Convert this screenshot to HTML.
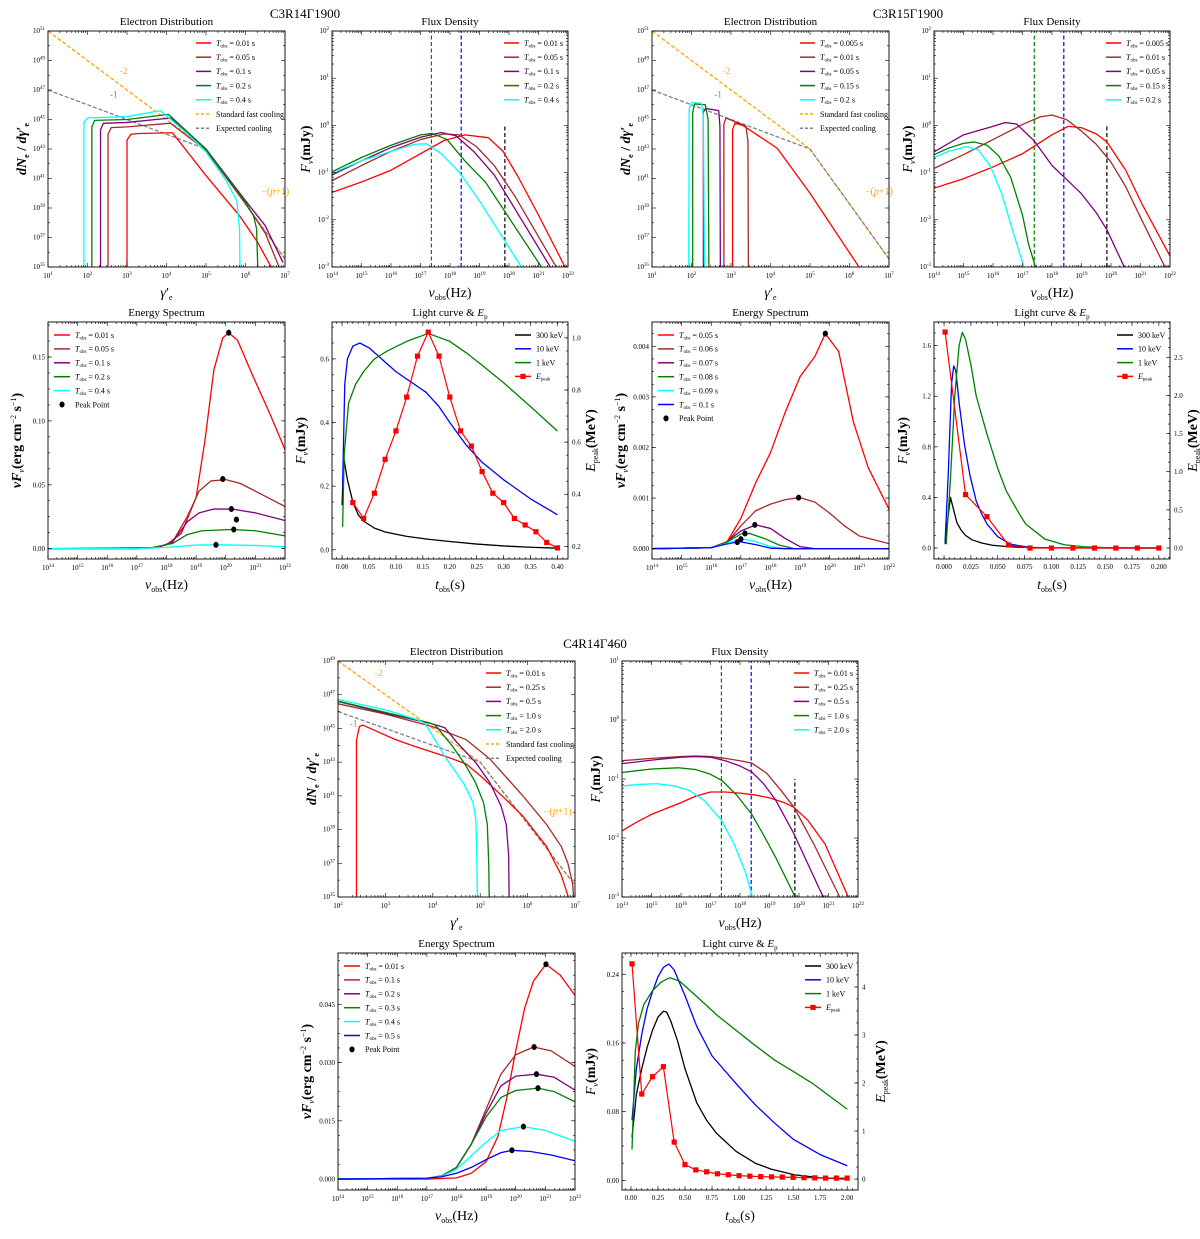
<!DOCTYPE html>
<html><head><meta charset="utf-8"><style>
html,body{margin:0;padding:0;background:#fff;}
svg{display:block;font-family:"Liberation Serif",serif;}
</style></head><body>
<svg id="fig" width="1200" height="1239" viewBox="0 0 1200 1239" xmlns="http://www.w3.org/2000/svg">
<rect x="0" y="0" width="1200" height="1239" fill="#fff"/>
</svg>
<script>
// ===== data (log10 values for log axes) =====
const ed1Red=[[3.0,35],[3.0,43.6],[3.1,44.0],[3.3,44.05],[4.15,44.1],[5.0,41.2],[5.87,38.4],[6.3,36.7],[6.65,35]];
const ed1Brown=[[2.52,35],[2.52,44.0],[2.6,44.45],[3.0,44.5],[4.1,44.75],[5.0,42.9],[6.0,39.3],[6.5,37.3],[6.85,35]];
const ed1Purple=[[2.33,35],[2.33,44.3],[2.4,44.74],[3.0,44.8],[4.1,45.1],[5.0,43.0],[6.0,39.5],[6.5,37.8],[6.95,35.3]];
const ed1Green=[[2.11,35],[2.11,44.5],[2.18,44.94],[3.0,45.0],[4.05,45.35],[5.0,43.0],[6.0,39.4],[6.2,38.5],[6.28,37.6],[6.31,35]];
const ed1Cyan=[[1.91,35],[1.91,44.8],[2.0,45.1],[3.0,45.2],[3.85,45.6],[4.5,44.1],[5.0,42.8],[5.5,40.9],[5.78,39.5],[5.85,37.5],[5.86,35]];
const edStd=[[1,51],[5,43],[7,35.55]];
const edExp=[[1,47],[5,43],[7,35.55]];
const fd1Red=[[14,-1.42],[15,-1.2],[16,-0.95],[17,-0.6],[17.8,-0.32],[18.5,-0.2],[19.3,-0.26],[19.8,-0.55],[20.3,-1.08],[21.0,-1.9],[21.9,-3]];
const fd1Brown=[[14,-1.17],[15,-0.85],[16,-0.55],[17,-0.3],[17.8,-0.18],[18.3,-0.2],[18.9,-0.45],[19.5,-0.85],[20.2,-1.5],[21.6,-3]];
const fd1Purple=[[14,-1.05],[15,-0.75],[16,-0.47],[17,-0.25],[17.7,-0.15],[18.2,-0.22],[18.8,-0.55],[19.5,-1.05],[21.4,-3]];
const fd1Green=[[14,-0.98],[15,-0.68],[16,-0.42],[17,-0.2],[17.4,-0.17],[17.9,-0.3],[18.5,-0.75],[19.2,-1.2],[21.1,-3]];
const fd1Cyan=[[14,-1.01],[15,-0.75],[16,-0.55],[16.8,-0.4],[17.2,-0.39],[17.7,-0.6],[18.3,-0.98],[19.0,-1.6],[20.42,-3]];
const fd1VLines=[17.37,18.38,19.86];
const es1Red=[[14,0],[17,0],[17.5,0.0005],[18,0.003],[18.5,0.012],[19,0.04],[19.3,0.085],[19.6,0.14],[19.9,0.165],[20.1,0.169],[20.4,0.163],[20.9,0.136],[21.5,0.105],[22,0.0775]];
const es1Brown=[[14,0],[17,0],[17.7,0.001],[18.2,0.005],[18.7,0.025],[19.1,0.045],[19.5,0.053],[20,0.054],[20.5,0.051],[21,0.045],[21.5,0.039],[22,0.033]];
const es1Purple=[[14,0],[17,0],[17.7,0.001],[18.2,0.005],[18.7,0.021],[19.1,0.028],[19.6,0.031],[20.2,0.031],[21,0.028],[22,0.022]];
const es1Green=[[14,0],[17.5,0.0008],[18.2,0.004],[18.7,0.011],[19.2,0.014],[20.2,0.015],[21,0.014],[22,0.010]];
const es1Cyan=[[14,0],[17,0],[18,0.001],[19,0.0028],[19.8,0.003],[21,0.0025],[22,0.0015]];
const es1Peaks=[[20.1,0.169],[19.9,0.0545],[20.19,0.031],[20.36,0.0227],[20.27,0.015],[19.67,0.003]];
const lc1BlackT=[0,0.003,0.01,0.02,0.03,0.04,0.06,0.08,0.12,0.16,0.2,0.25,0.3,0.35,0.4];
const lc1Black=[0.14,0.29,0.22,0.15,0.11,0.09,0.068,0.056,0.042,0.033,0.026,0.018,0.012,0.008,0.005];
const lc1BlueT=[0.001,0.005,0.01,0.02,0.033,0.05,0.08,0.1,0.13,0.156,0.18,0.2,0.23,0.26,0.3,0.35,0.4];
const lc1Blue=[0.2,0.52,0.6,0.64,0.65,0.635,0.59,0.56,0.525,0.495,0.45,0.4,0.33,0.275,0.22,0.16,0.11];
const lc1GreenT=[0.001,0.004,0.012,0.025,0.04,0.06,0.084,0.12,0.16,0.2,0.23,0.26,0.3,0.35,0.4];
const lc1Green=[0.072,0.3,0.46,0.52,0.56,0.6,0.625,0.655,0.68,0.655,0.62,0.58,0.525,0.45,0.373];
const lc1EpT=[0.02,0.04,0.06,0.08,0.10,0.12,0.14,0.16,0.18,0.20,0.22,0.24,0.26,0.28,0.30,0.32,0.34,0.36,0.38,0.40];
const lc1Ep=[0.368,0.307,0.404,0.534,0.643,0.773,0.930,1.022,0.930,0.773,0.643,0.585,0.487,0.404,0.368,0.307,0.282,0.256,0.215,0.194];
const ed2Red=[[3.04,35],[3.04,44.3],[3.1,44.75],[3.3,44.6],[4.17,43.05],[5.0,40.0],[6.24,35]];
const ed2Brown=[[2.82,35],[2.82,44.7],[2.87,45.1],[3.38,44.55],[3.43,43.5],[3.44,35]];
const ed2Purple=[[2.3,35],[2.3,45.5],[2.36,45.75],[2.69,45.6],[2.72,44.5],[2.73,35]];
const ed2Green=[[2.03,35],[2.03,45.5],[2.08,46.05],[2.35,46.0],[2.42,45.0],[2.44,35]];
const ed2Cyan=[[1.93,35],[1.94,45.7],[2.0,46.15],[2.25,46.1],[2.3,45.3],[2.33,35]];
const fd2Red=[[14,-1.33],[15,-1.13],[16,-0.88],[17,-0.6],[18,-0.2],[18.55,-0.02],[19,-0.05],[19.5,-0.18],[19.86,-0.35],[20.5,-0.95],[21.04,-1.65],[22,-2.77]];
const fd2Brown=[[14,-0.91],[15,-0.62],[16,-0.3],[17,0.02],[17.6,0.18],[18,0.22],[18.5,0.12],[19,-0.12],[19.5,-0.4],[20,-0.78],[20.5,-1.3],[21,-1.95],[21.83,-3]];
const fd2Purple=[[14,-0.56],[15,-0.2],[16,-0.02],[16.4,0.06],[16.8,0.03],[17.4,-0.33],[18,-0.85],[18.42,-1.1],[19,-1.45],[19.5,-1.85],[19.86,-2.21],[20.45,-3]];
const fd2Green=[[14,-0.62],[14.5,-0.48],[15,-0.38],[15.35,-0.35],[15.8,-0.42],[16.2,-0.65],[16.6,-1.1],[17,-1.9],[17.2,-2.5],[17.44,-3]];
const fd2Cyan=[[14,-0.68],[14.5,-0.55],[15.1,-0.45],[15.5,-0.52],[15.9,-0.85],[16.3,-1.45],[16.7,-2.3],[17.05,-3]];
const fd2VLines=[17.4,18.4,19.86];
const es2Red=[[14,0],[16,0.00002],[16.5,0.0001],[17,0.0006],[17.5,0.0013],[18,0.0019],[18.5,0.0027],[19,0.0034],[19.5,0.0038],[19.85,0.00425],[20.3,0.0039],[20.8,0.0025],[21.3,0.0016],[22,0.00078]];
const es2Brown=[[14,0],[16,0.00002],[16.5,0.0001],[17,0.00045],[17.5,0.00075],[18,0.00088],[18.5,0.00097],[19,0.00101],[19.5,0.00092],[20,0.0007],[20.5,0.00045],[21,0.00025],[22,0.0001]];
const es2Purple=[[14,0],[16,0.00002],[16.5,0.00013],[17,0.00035],[17.5,0.00047],[18,0.0004],[18.5,0.0002],[19,0.00004],[19.5,0],[22,0]];
const es2Green=[[14,0],[16,0.00002],[16.5,0.00012],[17,0.00029],[17.3,0.0003],[17.8,0.0002],[18.3,0.00007],[18.8,0],[22,0]];
const es2Cyan=[[14,0],[16,0.00002],[16.5,0.0001],[17,0.0002],[17.5,0.00014],[18,0.00004],[18.5,0],[22,0]];
const es2Blue=[[14,0],[16,0.00002],[16.5,0.00009],[16.95,0.00014],[17.5,0.00008],[18,0.00001],[18.5,0],[22,0]];
const es2Peaks=[[19.85,0.00425],[18.95,0.00101],[17.47,0.00047],[17.14,0.0003],[17.0,0.00019],[16.88,0.00013]];
const lc2BlackT=[0.001,0.003,0.006,0.009,0.012,0.016,0.02,0.026,0.035,0.045,0.06,0.08,0.1,0.2];
const lc2Black=[0.03,0.2,0.4,0.3,0.2,0.14,0.1,0.065,0.04,0.022,0.01,0.003,0.001,0];
const lc2BlueT=[0.001,0.004,0.007,0.009,0.011,0.014,0.019,0.024,0.03,0.035,0.04,0.05,0.062,0.08,0.1,0.2];
const lc2Blue=[0.05,0.6,1.3,1.44,1.4,1.15,0.82,0.58,0.37,0.27,0.19,0.09,0.03,0.005,0.001,0];
const lc2GreenT=[0.002,0.006,0.01,0.014,0.017,0.02,0.025,0.03,0.04,0.05,0.058,0.068,0.076,0.094,0.112,0.13,0.15,0.2];
const lc2Green=[0.03,0.55,1.2,1.6,1.705,1.65,1.45,1.2,0.9,0.63,0.45,0.3,0.19,0.07,0.026,0.01,0.003,0];
const lc2EpT=[0.001,0.02,0.04,0.06,0.08,0.10,0.12,0.14,0.16,0.18,0.20];
const lc2Ep=[2.83,0.70,0.41,0.04,0,0,0,0,0,0,0];
const ed3Red=[[2.39,35],[2.39,44.3],[2.45,45.1],[2.52,45.2],[2.8,44.85],[3.2,44.35],[3.6,43.95],[4.25,43.36],[4.7,42.9],[5.0,42.2],[5.5,40.9],[5.9,39.8],[6.4,38.0],[6.71,36.3],[6.86,35]];
const ed3Brown=[[2,46.46],[3,45.85],[4,45.1],[4.7,44.34],[5.2,43.2],[5.9,41.0],[6.4,39.3],[6.71,38.0],[6.85,37],[6.95,35.8],[6.97,35]];
const ed3Purple=[[2,46.6],[3,45.9],[3.95,45.3],[4.25,45.05],[4.5,44.2],[4.91,42.96],[5.2,41.8],[5.44,40.4],[5.55,39.3],[5.6,37.5],[5.61,35]];
const ed3Green=[[2,46.62],[3,45.95],[3.9,45.35],[4.05,45.2],[4.4,44.0],[4.66,42.96],[4.9,41.8],[5.07,40.6],[5.15,39.3],[5.18,37],[5.19,35]];
const ed3Cyan=[[2,46.72],[3,46.1],[3.7,45.5],[3.85,45.25],[4.25,43.36],[4.66,41.7],[4.85,40.6],[4.91,39.6],[4.93,37],[4.94,35]];
const ed3Std=[[2,49],[5,43],[7,35.7]];
const ed3Exp=[[2,46.0],[5,43],[7,35.7]];
const fd3Red=[[14,-1.88],[14.5,-1.73],[15,-1.6],[15.5,-1.5],[16,-1.4],[16.5,-1.29],[17,-1.22],[17.5,-1.22],[18,-1.24],[18.5,-1.27],[19,-1.32],[19.5,-1.4],[19.83,-1.48],[20.3,-1.7],[20.88,-2.1],[21.67,-3]];
const fd3Brown=[[14,-0.69],[15,-0.65],[16,-0.62],[16.5,-0.61],[17,-0.62],[17.5,-0.65],[18,-0.69],[18.4,-0.73],[18.9,-0.9],[19.4,-1.2],[19.83,-1.48],[20.5,-2.1],[21.38,-3]];
const fd3Purple=[[14,-0.74],[15,-0.68],[16,-0.63],[16.5,-0.62],[17,-0.63],[17.5,-0.69],[18,-0.78],[18.4,-0.88],[18.8,-1.08],[19.2,-1.35],[19.83,-1.93],[20.82,-3]];
const fd3Green=[[14,-0.89],[15,-0.83],[15.9,-0.81],[16.5,-0.84],[17,-0.92],[17.4,-1.03],[17.9,-1.28],[18.4,-1.6],[18.8,-1.95],[19.2,-2.32],[19.87,-3]];
const fd3Cyan=[[14,-1.12],[14.6,-1.09],[15.2,-1.08],[15.8,-1.12],[16.3,-1.2],[16.8,-1.37],[17.37,-1.7],[17.8,-2.1],[18.2,-2.6],[18.42,-3]];
const fd3VLines=[17.37,18.38,19.86];
const es3Red=[[14,0],[17,0],[18,0.0003],[18.5,0.0015],[19,0.0045],[19.4,0.011],[19.7,0.021],[20,0.033],[20.3,0.044],[20.6,0.051],[21.02,0.0553],[21.5,0.0525],[22,0.0473]];
const es3Brown=[[14,0],[17,0.0002],[17.5,0.0008],[18,0.003],[18.5,0.009],[19,0.018],[19.5,0.027],[20,0.032],[20.6,0.034],[21.2,0.033],[22,0.029]];
const es3Purple=[[14,0],[17,0.0002],[17.5,0.0008],[18,0.003],[18.5,0.009],[19,0.017],[19.5,0.024],[20,0.0265],[20.7,0.027],[21.3,0.0262],[22,0.0229]];
const es3Green=[[14,0],[17,0.0002],[17.5,0.0008],[18,0.003],[18.5,0.009],[19,0.016],[19.5,0.021],[20,0.0228],[20.75,0.0234],[21.3,0.0225],[22,0.0199]];
const es3Cyan=[[14,0],[17,0.0002],[17.5,0.0007],[18,0.0025],[18.5,0.006],[19,0.0095],[19.5,0.0125],[20.26,0.0135],[21,0.0125],[22,0.0097]];
const es3Blue=[[14,0],[17,0.0002],[17.5,0.0006],[18,0.0015],[18.5,0.003],[19,0.005],[19.5,0.0068],[19.87,0.0074],[20.5,0.0071],[21.2,0.0062],[22,0.0047]];
const es3Peaks=[[21.02,0.0553],[20.62,0.034],[20.7,0.027],[20.75,0.0234],[20.26,0.0135],[19.87,0.0074]];
const lc3BlackT=[0.01,0.05,0.1,0.15,0.2,0.25,0.3,0.33,0.37,0.43,0.5,0.61,0.7,0.79,0.97,1.15,1.3,1.51,1.75,2.0];
const lc3Black=[0.05,0.1,0.13,0.155,0.175,0.19,0.197,0.196,0.185,0.163,0.13,0.09,0.07,0.055,0.034,0.02,0.013,0.0066,0.003,0.0015];
const lc3BlueT=[0.01,0.05,0.1,0.15,0.2,0.25,0.3,0.35,0.4,0.5,0.61,0.75,0.97,1.15,1.33,1.5,1.75,2.0];
const lc3Blue=[0.07,0.13,0.17,0.2,0.22,0.237,0.248,0.252,0.245,0.215,0.179,0.145,0.113,0.088,0.0666,0.048,0.03,0.017];
const lc3GreenT=[0.01,0.04,0.07,0.12,0.2,0.28,0.36,0.45,0.61,0.8,0.97,1.15,1.33,1.5,1.69,1.85,2.0];
const lc3Green=[0.036,0.15,0.183,0.205,0.221,0.231,0.236,0.232,0.214,0.192,0.175,0.157,0.14,0.127,0.112,0.097,0.083];
const lc3EpT=[0.01,0.1,0.2,0.3,0.4,0.5,0.6,0.7,0.8,0.9,1.0,1.1,1.2,1.3,1.4,1.5,1.6,1.7,1.8,1.9,2.0];
const lc3Ep=[4.48,1.77,2.13,2.34,0.77,0.30,0.19,0.15,0.11,0.09,0.07,0.06,0.05,0.045,0.04,0.035,0.03,0.025,0.02,0.02,0.02];
const lcTicks1=["0.00","0.05","0.10","0.15","0.20","0.25","0.30","0.35","0.40"];
const lcTicks2=["0.000","0.025","0.050","0.075","0.100","0.125","0.150","0.175","0.200"];
const lcTicks3=["0.00","0.25","0.50","0.75","1.00","1.25","1.50","1.75","2.00"];

// ===== drawing =====
const NS='http://www.w3.org/2000/svg';
const svg=document.getElementById('fig');
let clipN=0;
function mk(tag,attrs,parent){const e=document.createElementNS(NS,tag);for(const k in attrs)e.setAttribute(k,attrs[k]);(parent||svg).appendChild(e);return e;}
const C={red:'#ff0000',brown:'#a52a2a',purple:'#800080',green:'#008000',cyan:'#00ffff',blue:'#0000ff',black:'#000000',orange:'#ffa500',gray:'#808080'};
function sup(e){return `10<tspan dy="-3" font-size="5">${e}</tspan>`;}

function panel(o){
  const g=mk('g',{});
  
  
  const W=o.x1-o.x0,H=o.y1-o.y0;
  const sx=v=>o.x0+(v-o.xmin)/(o.xmax-o.xmin)*W;
  const sy=v=>o.y1-(v-o.ymin)/(o.ymax-o.ymin)*H;
  const sr=o.right?(v=>o.y1-(v-o.right.min)/(o.right.max-o.right.min)*H):null;
  const id='clip'+(clipN++);
  const cp=mk('clipPath',{id:id},g);mk('rect',{x:o.x0,y:o.y0,width:W,height:H},cp);
  const plot=mk('g',{'clip-path':`url(#${id})`},g);
  
  
  const tk=mk('g',{stroke:'#000','stroke-width':0.6},g);
  
  
  function xt(v,len){const X=sx(v);if(X<o.x0-0.1||X>o.x1+0.1)return;mk('line',{x1:X,x2:X,y1:o.y1,y2:o.y1-len},tk);mk('line',{x1:X,x2:X,y1:o.y0,y2:o.y0+len},tk);}
  function yt(v,len,right,both){const Y=(right?sr:sy)(v);if(Y<o.y0-0.1||Y>o.y1+0.1)return;if(!right||both)mk('line',{x1:o.x0,x2:o.x0+len,y1:Y,y2:Y},tk);if(right||both)mk('line',{x1:o.x1,x2:o.x1-len,y1:Y,y2:Y},tk);}
  const xl=mk('g',{'font-size':7,'text-anchor':'middle',fill:'#000'},g);
  
  
  const yl=mk('g',{'font-size':7,'text-anchor':'end',fill:'#000'},g);
  
  
  if(o.xlog){
    for(let d=Math.floor(o.xmin);d<=o.xmax;d++){xt(d,4);const t=mk('text',{x:sx(d),y:o.y1+11},xl);t.innerHTML=sup(d);
      if(d<o.xmax)for(let m=2;m<10;m++)xt(d+Math.log10(m),2);}
  } else {
    o.xticks.forEach((v,i)=>{xt(v,4);const t=mk('text',{x:sx(v),y:o.y1+10},xl);t.textContent=o.xlabels[i];});
    const st=(o.xticks[1]-o.xticks[0])/5;for(let v=o.xticks[0]-st*5;v<=o.xmax;v+=st)xt(v,2);
  }
  const both=!o.right;
  if(o.ylog){
    for(let d=Math.ceil(o.ymin);d<=o.ymax;d++){
      if(o.ylabStep&&((d-o.ymin)%o.ylabStep)!==0){yt(d,2,false,both);continue;}
      yt(d,4,false,both);const t=mk('text',{x:o.x0-3,y:sy(d)+2},yl);t.innerHTML=sup(d);
      if(!o.ylabStep&&d<o.ymax)for(let m=2;m<10;m++)yt(d+Math.log10(m),2,false,both);}
  } else {
    o.yticks.forEach((v,i)=>{yt(v,4,false,both);const t=mk('text',{x:o.x0-3,y:sy(v)+2.5},yl);t.textContent=o.ylabels[i];});
    const st=(o.yticks[1]-o.yticks[0])/4;for(let v=o.yticks[0]-st*4;v<=o.ymax;v+=st)yt(v,2,false,both);
  }
  if(o.right){
    const rl=mk('g',{'font-size':7,'text-anchor':'start',fill:'#000'},g);
    
    
    o.right.ticks.forEach((v,i)=>{yt(v,4,true,false);const t=mk('text',{x:o.x1+4,y:sr(v)+2.5},rl);t.textContent=o.right.labels[i];});
    const st=(o.right.ticks[1]-o.right.ticks[0])/4;for(let v=o.right.ticks[0]-st*4;v<=o.right.max;v+=st)yt(v,2,true,false);
    const rt=mk('text',{x:o.x1+27,y:(o.y0+o.y1)/2,'font-size':14,'text-anchor':'middle',transform:`rotate(-90 ${o.x1+27} ${(o.y0+o.y1)/2})`},g);
    
    
    rt.innerHTML=o.right.title;
  }
  const box=mk('rect',{x:o.x0,y:o.y0,width:W,height:H,fill:'none',stroke:'#000','stroke-width':0.9},g);
  
  
  const ti=mk('text',{x:(o.x0+o.x1)/2,y:o.y0-6,'font-size':11,'text-anchor':'middle'},g);
  
  
  ti.innerHTML=o.title;
  const xa=mk('text',{x:(o.x0+o.x1)/2,y:o.y1+30,'font-size':14,'text-anchor':'middle'},g);
  
  
  xa.innerHTML=o.xtitle;
  const yx=o.x0-(o.ylog?22:27),yc=(o.y0+o.y1)/2;
  const ya=mk('text',{x:yx,y:yc,'font-size':14,'text-anchor':'middle',transform:`rotate(-90 ${yx} ${yc})`},g);
  
  
  ya.innerHTML=o.ytitle;
  return {sx,sy,sr,plot,g,o};
}
function line(P,pts,color,name,opts){
  opts=opts||{};const f=opts.right?P.sr:P.sy;
  const d=pts.map((p,i)=>(i?'L':'M')+P.sx(p[0]).toFixed(2)+' '+f(p[1]).toFixed(2)).join(' ');
  const e=mk('path',{d:d,fill:'none',stroke:color,'stroke-width':opts.w||1.3,'stroke-dasharray':opts.dash||'none','stroke-linejoin':'round'},P.plot);
  
  
  return e;
}
function zip(a,b){return a.map((v,i)=>[v,b[i]]);}
function vline(P,x,top,color,name){
  const e=mk('line',{x1:P.sx(x),x2:P.sx(x),y1:P.o.y1,y2:top==null?P.o.y0:P.sy(top),stroke:color,'stroke-width':1.2,'stroke-dasharray':'4,2.5'},P.plot);
  
  
}
function peaks(P,arr,name){
  arr.forEach(p=>{const e=mk('ellipse',{cx:P.sx(p[0]),cy:P.sy(p[1]),rx:2.6,ry:3,fill:'#000'},P.plot);
    
    });
}
function epeak(P,t,v){
  line(P,zip(t,v),C.red,'epeak-line',{right:true,w:1.2});
  t.forEach((x,i)=>{const e=mk('rect',{x:P.sx(x)-2.6,y:P.sr(v[i])-2.6,width:5.2,height:5.2,fill:C.red},P.g);
    
    });
}
function label(P,x,y,txt,color,name,size){
  const e=mk('text',{x:P.sx(x),y:P.sy(y),fill:color,'font-size':size||10},P.g);
  
  
  e.innerHTML=txt;
}
function legend(items,x1,x2,tx,y0,dy,name){
  const g=mk('g',{'font-size':8});
  
  
  items.forEach((it,i)=>{
    const y=y0+i*dy;
    const eg=mk('g',{},g);
    
    
    if(it.dot){mk('ellipse',{cx:(x1+x2)/2,cy:y,rx:2.6,ry:3,fill:'#000'},eg);}
    else{mk('line',{x1:x1,x2:x2,y1:y,y2:y,stroke:it.c,'stroke-width':1.5,'stroke-dasharray':it.dash||'none'},eg);
      if(it.sq)mk('rect',{x:(x1+x2)/2-2.6,y:y-2.6,width:5.2,height:5.2,fill:it.c},eg);}
    const t=mk('text',{x:tx,y:y+2.8},eg);t.innerHTML=it.t;
  });
}
const T=v=>`<tspan font-style="italic">T</tspan><tspan font-size="5" dy="1.5">obs</tspan><tspan dy="-1.5"> = ${v} s</tspan>`;
const Ep=`<tspan font-style="italic">E</tspan><tspan font-size="5" dy="1.5">peak</tspan>`;
const titles={
 ed:{title:'Electron Distribution',xtitle:'<tspan font-style="italic">γ</tspan>′<tspan font-size="8" dy="3">e</tspan>',ytitle:'<tspan font-weight="bold" font-style="italic">dN</tspan><tspan font-size="8" dy="3" font-weight="bold">e</tspan><tspan dy="-3" font-weight="bold"> / </tspan><tspan font-style="italic" font-weight="bold">dγ</tspan><tspan font-weight="bold">′</tspan><tspan font-size="8" dy="3" font-weight="bold">e</tspan>'},
 fd:{title:'Flux Density',xtitle:'<tspan font-style="italic">ν</tspan><tspan font-size="8" dy="3">obs</tspan><tspan dy="-3">(Hz)</tspan>',ytitle:'<tspan font-style="italic">F</tspan><tspan font-size="8" dy="3" font-style="italic">ν</tspan><tspan dy="-3" font-weight="bold">(mJy)</tspan>'},
 es:{title:'Energy Spectrum',xtitle:'<tspan font-style="italic">ν</tspan><tspan font-size="8" dy="3">obs</tspan><tspan dy="-3">(Hz)</tspan>',ytitle:'<tspan font-style="italic" font-weight="bold">νF</tspan><tspan font-size="8" dy="3" font-style="italic">ν</tspan><tspan dy="-3" font-weight="bold">(erg cm</tspan><tspan font-size="8" dy="-5">−2</tspan><tspan dy="5" font-weight="bold"> s</tspan><tspan font-size="8" dy="-5">−1</tspan><tspan dy="5" font-weight="bold">)</tspan>'},
 lc:{title:'Light curve &amp; <tspan font-style="italic">E</tspan><tspan font-size="7" dy="3">p</tspan>',xtitle:'<tspan font-style="italic">t</tspan><tspan font-size="8" dy="3">obs</tspan><tspan dy="-3">(s)</tspan>',ytitle:'<tspan font-style="italic">F</tspan><tspan font-size="8" dy="3" font-style="italic">ν</tspan><tspan dy="-3" font-weight="bold">(mJy)</tspan>'}
};
const rTitle='<tspan font-style="italic">E</tspan><tspan font-size="8" dy="3">peak</tspan><tspan dy="-3" font-weight="bold">(MeV)</tspan>';
function cfg(base,extra){return Object.assign({},base,extra);}
function group(gt,gx,gy){const e=mk('text',{x:gx,y:gy,'font-size':13,'text-anchor':'middle'});
  
  
  e.textContent=gt;}
group('C3R14Γ1900',305,18);group('C3R15Γ1900',908,18);group('C4R14Γ460',595,648);

function edPanel(name,x0,y0,xmin,ymax,series,std,exp,ann,labs){
  const P=panel(cfg(titles.ed,{name,x0,y0,x1:x0+237,y1:y0+236,xlog:true,xmin,xmax:7,ylog:true,ymin:35,ymax,ylabStep:2}));
  line(P,std,C.orange,'standard-fast-cooling-line',{dash:'4,2',w:1.3});
  line(P,exp,C.gray,'expected-cooling-line',{dash:'4,2',w:1.3});
  const cols=[C.red,C.brown,C.purple,C.green,C.cyan];
  series.forEach((s,i)=>line(P,s,cols[i],'electron-curve-'+i));
  label(P,ann[0][0],ann[0][1],'-2',C.orange,'slope-label-minus-2',9);
  label(P,ann[1][0],ann[1][1],'-1',C.gray,'slope-label-minus-1',9);
  label(P,ann[2][0],ann[2][1],'−(<tspan font-style="italic">p</tspan>+1)',C.orange,'slope-label-p-plus-1',10);
  legend(cols.map((c,i)=>({c,t:T(labs[i])})).concat([{c:C.orange,dash:'3,2',t:'Standard fast cooling'},{c:C.gray,dash:'3,2',t:'Expected cooling'}]),x0+148,x0+163,x0+168,y0+12,14.2,name+'-legend');
}
function fdPanel(name,x0,y0,ymax,series,vl,labs,blackTop){
  const P=panel(cfg(titles.fd,{name,x0,y0,x1:x0+236,y1:y0+236,xlog:true,xmin:14,xmax:22,ylog:true,ymin:-3,ymax}));
  vline(P,vl[0],null,C.green,'vline-1keV');vline(P,vl[1],null,C.blue,'vline-10keV');vline(P,vl[2],blackTop,C.black,'vline-300keV');
  const cols=[C.red,C.brown,C.purple,C.green,C.cyan];
  series.forEach((s,i)=>line(P,s,cols[i],'flux-curve-'+i));
  legend(cols.map((c,i)=>({c,t:T(labs[i])})),x0+172,x0+187,x0+192,y0+12,14.2,name+'-legend');
}
function esPanel(name,x0,y0,ymin,ymax,yt,ylab,series,cols,pk,labs){
  const P=panel(cfg(titles.es,{name,x0,y0,x1:x0+237,y1:y0+237,xlog:true,xmin:14,xmax:22,ylog:false,ymin,ymax,yticks:yt,ylabels:ylab}));
  series.forEach((s,i)=>line(P,s,cols[i],'spectrum-curve-'+i));
  peaks(P,pk,'peak-point');
  legend(cols.map((c,i)=>({c,t:T(labs[i])})).concat([{dot:true,t:'Peak Point'}]),x0+6,x0+22,x0+27,y0+13,13.9,name+'-legend');
}
function lcPanel(name,x0,y0,xmin,xmax,xt,xlab,ymin,ymax,yt,ylab,right,bl,bu,gr,ep){
  const P=panel(cfg(titles.lc,{name,x0,y0,x1:x0+236,y1:y0+237,xlog:false,xmin,xmax,xticks:xt,xlabels:xlab,ylog:false,ymin,ymax,yticks:yt,ylabels:ylab,right:Object.assign({title:rTitle},right)}));
  line(P,zip(bl[0],bl[1]),C.black,'lightcurve-300keV');
  line(P,zip(bu[0],bu[1]),C.blue,'lightcurve-10keV');
  line(P,zip(gr[0],gr[1]),C.green,'lightcurve-1keV');
  epeak(P,ep[0],ep[1]);
  legend([{c:C.black,t:'300 keV'},{c:C.blue,t:'10 keV'},{c:C.green,t:'1 keV'},{c:C.red,sq:true,t:Ep}],x0+183,x0+199,x0+204,y0+13,13.8,name+'-legend');
}
const rng=(a,b,s)=>{const r=[];for(let v=a;v<=b+1e-9;v+=s)r.push(+v.toFixed(4));return r;};

edPanel('electron-distribution-c3r14',48,31,1,51,[ed1Red,ed1Brown,ed1Purple,ed1Green,ed1Cyan],edStd,edExp,[[2.82,48.1],[2.57,46.5],[6.4,39.9]],['0.01','0.05','0.1','0.2','0.4']);
fdPanel('flux-density-c3r14',332,31,2,[fd1Red,fd1Brown,fd1Purple,fd1Green,fd1Cyan],fd1VLines,['0.01','0.05','0.1','0.2','0.4'],0);
esPanel('energy-spectrum-c3r14',48,322,-0.0081,0.1774,[0,0.05,0.1,0.15],['0.00','0.05','0.10','0.15'],[es1Red,es1Brown,es1Purple,es1Green,es1Cyan],[C.red,C.brown,C.purple,C.green,C.cyan],es1Peaks,['0.01','0.05','0.1','0.2','0.4']);
lcPanel('light-curve-c3r14',332,322,-0.0187,0.4195,rng(0,0.4,0.05),lcTicks1,-0.029,0.716,[0,0.2,0.4,0.6],['0.0','0.2','0.4','0.6'],{min:0.1515,max:1.061,ticks:[0.2,0.4,0.6,0.8,1.0],labels:['0.2','0.4','0.6','0.8','1.0']},[lc1BlackT,lc1Black],[lc1BlueT,lc1Blue],[lc1GreenT,lc1Green],[lc1EpT,lc1Ep]);

edPanel('electron-distribution-c3r15',652,31,1,51,[ed2Red,ed2Brown,ed2Purple,ed2Green,ed2Cyan],edStd,edExp,[[2.79,48.1],[2.58,46.5],[6.39,39.9]],['0.005','0.01','0.05','0.15','0.2']);
fdPanel('flux-density-c3r15',934,31,2,[fd2Red,fd2Brown,fd2Purple,fd2Green,fd2Cyan],fd2VLines,['0.005','0.01','0.05','0.15','0.2'],0);
esPanel('energy-spectrum-c3r15',652,322,-0.000204,0.00448,[0,0.001,0.002,0.003,0.004],['0.000','0.001','0.002','0.003','0.004'],[es2Red,es2Brown,es2Purple,es2Green,es2Cyan,es2Blue],[C.red,C.brown,C.purple,C.green,C.cyan,C.blue],es2Peaks,['0.05','0.06','0.07','0.08','0.09','0.1']);
lcPanel('light-curve-c3r15',934,322,-0.00935,0.2104,rng(0,0.2,0.025),lcTicks2,-0.0867,1.787,[0,0.4,0.8,1.2,1.6],['0.0','0.4','0.8','1.2','1.6'],{min:-0.1437,max:2.962,ticks:[0,0.5,1,1.5,2,2.5],labels:['0.0','0.5','1.0','1.5','2.0','2.5']},[lc2BlackT,lc2Black],[lc2BlueT,lc2Blue],[lc2GreenT,lc2Green],[lc2EpT,lc2Ep]);

edPanel('electron-distribution-c4r14',338,661,2,49,[ed3Red,ed3Brown,ed3Purple,ed3Green,ed3Cyan],ed3Std,ed3Exp,[[2.78,48.1],[2.25,45.1],[6.34,39.9]],['0.01','0.25','0.5','1.0','2.0']);
fdPanel('flux-density-c4r14',622,661,1,[fd3Red,fd3Brown,fd3Purple,fd3Green,fd3Cyan],fd3VLines,['0.01','0.25','0.5','1.0','2.0'],-1);
esPanel('energy-spectrum-c4r14',338,953,-0.00282,0.0582,[0,0.015,0.03,0.045],['0.000','0.015','0.030','0.045'],[es3Red,es3Brown,es3Purple,es3Green,es3Cyan,es3Blue],[C.red,C.brown,C.purple,C.green,C.cyan,C.blue],es3Peaks,['0.01','0.1','0.2','0.3','0.4','0.5']);
lcPanel('light-curve-c4r14',622,953,-0.0826,2.1,rng(0,2,0.25),lcTicks3,-0.0112,0.2648,[0,0.08,0.16,0.24],['0.00','0.08','0.16','0.24'],{min:-0.228,max:4.706,ticks:[0,1,2,3,4],labels:['0','1','2','3','4']},[lc3BlackT,lc3Black],[lc3BlueT,lc3Blue],[lc3GreenT,lc3Green],[lc3EpT,lc3Ep]);
</script>
</body></html>
